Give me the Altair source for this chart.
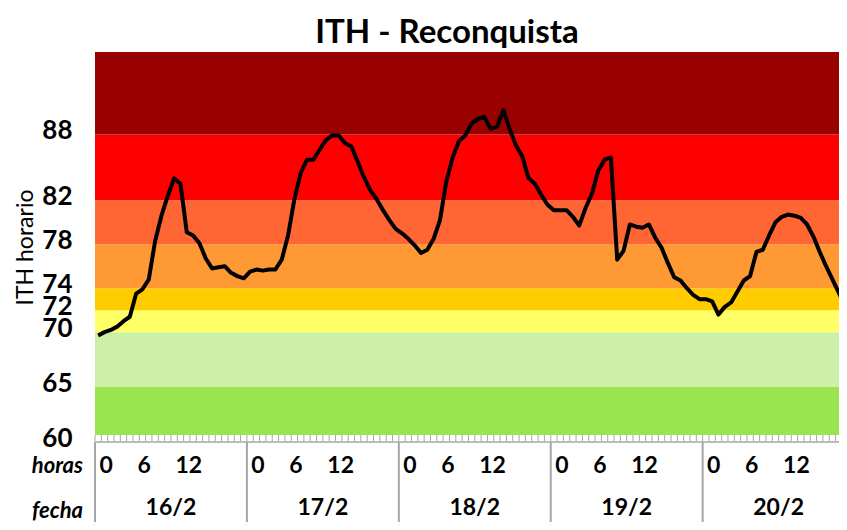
import altair as alt
import pandas as pd

chart_title = "ITH - Reconquista"
y_title = "ITH horario"
days = ["16/2", "17/2", "18/2", "19/2", "20/2"]
hour_labels = [0, 6, 12]
y_ticks = [60, 65, 70, 72, 74, 78, 82, 88]
band_lo = [60, 65, 70, 72, 74, 78, 82, 88]
band_hi = [65, 70, 72, 74, 78, 82, 88, 95.5]
band_colors = ["#99E550", "#CCF0A8", "#FFFF66", "#FFCC00",
               "#FF9933", "#FF6633", "#FF0000", "#990000"]

# hourly ITH values, 16/2 00h ... 20/2 22h
ith = [
    69.7, 70.0, 70.2, 70.5, 71.0, 71.4, 73.5, 73.9, 74.8, 78.3, 80.6, 82.4,
    84.0, 83.5, 79.1, 78.8, 78.1, 76.7, 75.8, 75.9, 76.0, 75.4, 75.1, 74.9,
    75.5, 75.7, 75.6, 75.7, 75.7, 76.6, 78.8, 82.1, 84.5, 85.7, 85.7, 86.6,
    87.5, 87.9, 87.9, 87.2, 86.9, 85.5, 84.1, 82.9, 82.1, 81.1, 80.2, 79.4,
    79.0, 78.5, 77.9, 77.2, 77.5, 78.5, 80.2, 83.7, 85.9, 87.4, 87.9, 89.0,
    89.4, 89.6, 88.5, 88.7, 90.2, 88.5, 87.0, 86.0, 84.0, 83.5, 82.5, 81.6,
    81.1, 81.1, 81.1, 80.5, 79.7, 81.3, 82.6, 84.7, 85.7, 85.9, 76.6, 77.4,
    79.8, 79.6, 79.5, 79.8, 78.6, 77.7, 76.3, 75.0, 74.7, 74.0, 73.4, 73.0,
    73.0, 72.8, 71.6, 72.3, 72.7, 73.7, 74.7, 75.1, 77.3, 77.5, 78.8, 80.0,
    80.5, 80.7, 80.6, 80.4, 79.8, 78.7, 77.3, 76.0, 74.8, 73.6, 72.4,
]

W, H = 744, 390
FONT = "Lato"
GRAY = "#a6a6a6"

xs = alt.Scale(domain=[0, 117.54], nice=False, zero=False)
ys = alt.Scale(domain=[60, 95.5], nice=False, zero=False)

y_axis = alt.Axis(
    values=y_ticks, title=y_title, labelFont=FONT, labelFontSize=26,
    labelFontWeight="bold", labelColor="black", labelPadding=23,
    ticks=False, tickSize=0, domain=False, grid=False, labelOverlap=False,
    labelFlush=False, labelOffset=-4, titleFont=FONT, titleFontSize=23,
    titleFontWeight="normal", titleColor="black", titlePadding=4)

bands_df = pd.DataFrame({"lo": band_lo, "hi": band_hi, "band": [str(v) for v in band_lo]})
line_df = pd.DataFrame({"x": [i + 0.5 for i in range(len(ith))], "ith": ith})
tick_df = pd.DataFrame({"x": list(range(0, 118))})
sep_df = pd.DataFrame({"x": [24 * d for d in range(len(days))]})
hour_df = pd.DataFrame([
    {"x": 24 * d + h + 0.7, "label": str(h)}
    for d in range(len(days)) for h in hour_labels
])
day_df = pd.DataFrame({"x": [24 * d + 12 for d in range(len(days))], "label": days})

bands = alt.Chart(bands_df).mark_rect().encode(
    y=alt.Y("lo:Q", scale=ys, axis=y_axis),
    y2="hi:Q",
    x=alt.value(0),
    x2=alt.value(W),
    color=alt.Color("band:N", scale=alt.Scale(domain=[str(v) for v in band_lo],
                                             range=band_colors), legend=None),
)

strip = alt.Chart(pd.DataFrame({"a": [0]})).mark_rect(color="white").encode(
    x=alt.value(0), x2=alt.value(W), y=alt.value(H - 7), y2=alt.value(H)
)

ticks = alt.Chart(tick_df).mark_rule(color=GRAY, strokeWidth=1).encode(
    x=alt.X("x:Q", scale=xs, axis=None),
    y=alt.value(H - 7), y2=alt.value(H - 1)
)

axis_line = alt.Chart(pd.DataFrame({"a": [0]})).mark_rule(color=GRAY, strokeWidth=1.5).encode(
    x=alt.value(0), x2=alt.value(W), y=alt.value(H)
)

seps = alt.Chart(sep_df).mark_rule(color=GRAY, strokeWidth=2).encode(
    x=alt.X("x:Q", scale=xs, axis=None),
    y=alt.value(H), y2=alt.value(H + 95)
)

line = alt.Chart(line_df).mark_line(color="black", strokeWidth=4,
                                    strokeJoin="round").encode(
    x=alt.X("x:Q", scale=xs, axis=None),
    y=alt.Y("ith:Q", scale=ys, axis=y_axis),
)

hours_txt = alt.Chart(hour_df).mark_text(
    font=FONT, fontSize=23, fontWeight="bold", align="left",
    baseline="middle", color="black").encode(
    x=alt.X("x:Q", scale=xs, axis=None), y=alt.value(H + 24), text="label:N"
)

days_txt = alt.Chart(day_df).mark_text(
    font=FONT, fontSize=23, fontWeight="bold", align="center",
    baseline="middle", color="black").encode(
    x=alt.X("x:Q", scale=xs, axis=None), y=alt.value(H + 66), text="label:N"
)

horas_txt = alt.Chart(pd.DataFrame({"label": ["horas"]})).mark_text(
    font=FONT, fontSize=22, fontWeight="bold", fontStyle="italic",
    align="right", baseline="middle", color="black").encode(
    x=alt.value(-12), y=alt.value(H + 24), text="label:N"
)
fecha_txt = alt.Chart(pd.DataFrame({"label": ["fecha"]})).mark_text(
    font=FONT, fontSize=22, fontWeight="bold", fontStyle="italic",
    align="right", baseline="middle", color="black").encode(
    x=alt.value(-12), y=alt.value(H + 69), text="label:N"
)

chart = alt.layer(
    bands, strip, ticks, axis_line, seps, line,
    hours_txt, days_txt, horas_txt, fecha_txt
).properties(
    width=W, height=H,
    title=alt.TitleParams(chart_title, font=FONT, fontSize=33, fontWeight="bold",
                          color="black", anchor="middle", dx=-20, offset=2),
    autosize=alt.AutoSizeParams(type="none"),
    padding={"left": 87, "top": 44, "right": 0, "bottom": 80},
).configure_view(strokeWidth=0)

chart.save("out.html", embed_options={"renderer": "svg", "actions": False})
